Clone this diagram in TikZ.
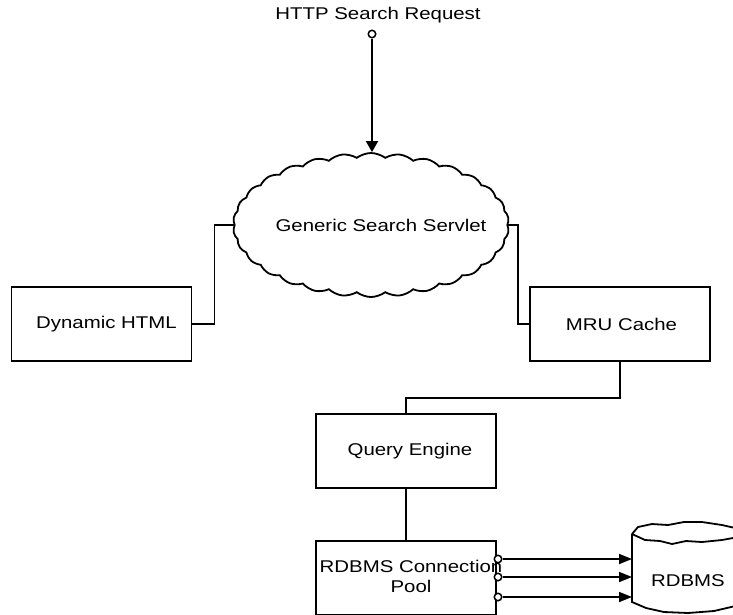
\documentclass[tikz,border=0pt]{standalone}
\usepackage{fontspec}
\setmainfont{Liberation Sans}
\usetikzlibrary{shapes.symbols,arrows.meta}
\newcommand{\wtxt}[1]{\scalebox{1.2}[1]{#1}}
\begin{document}
\begin{tikzpicture}[x=1pt,y=-1pt,line width=1.8pt,
  box/.style={draw,minimum width=180pt,minimum height=74pt,inner sep=0pt,font=\fontsize{17}{20}\selectfont},
  lbl/.style={inner sep=0pt,align=center,font=\fontsize{17}{20}\selectfont},
  tipa/.style={-{Triangle[length=11pt,width=12pt]}},
  tipb/.style={-{Triangle[length=13pt,width=10pt]}},
  port/.style={circle,draw,fill=white,minimum size=7.5pt,inner sep=0pt,line width=1.5pt}]
\useasboundingbox (0,0) rectangle (733,614);
\clip (0,0) rectangle (733,614);
% nodes
\node[lbl] (http) at (378,15) {\wtxt{HTTP Search Request}};
\node[port] (src) at (372,34) {};
\node[cloud,draw,cloud puffs=30,cloud puff arc=75,aspect=1.9,minimum width=276pt,minimum height=144pt,inner sep=0pt,font=\fontsize{17}{20}\selectfont] (servlet) at (371,225) {\makebox[0pt]{\hspace*{20pt}\wtxt{Generic Search Servlet}}};
\node[box] (dyn) at (101.5,324) {\makebox[0pt]{\hspace*{10pt}\wtxt{Dynamic HTML}}};
\node[box] (mru) at (620,324) {\makebox[0pt]{\hspace*{3pt}\wtxt{MRU Cache}}};
\node[box] (qe) at (406,451) {\makebox[0pt]{\hspace*{8pt}\wtxt{Query Engine}}};
\node[box] (pool) at (406,578) {\makebox[0pt]{\hspace*{10pt}\wtxt{\begin{tabular}{@{}c@{}}RDBMS Connection\\Pool\end{tabular}}}};
% cylinder
\draw (632,534) -- (638,527) -- (652,524) -- (668,525) -- (684,522) -- (702,522) -- (722,525) -- (744,530);
\draw (632,534) -- (645,540) -- (660,541) -- (672,544) -- (686,541) -- (702,542) -- (722,540) -- (744,536);
\draw (632,534) -- (632,602) -- (646,608) -- (664,612) -- (688,613) -- (714,611) -- (744,604);
\coordinate (dbw) at (632,578);
\node[lbl] (db) at (688,581) {\wtxt{RDBMS}};
% connectors
\draw[tipa] (src.south) -- (src.south |- servlet.north);
\draw (dyn.east) -- ++(22,0) |- (servlet.west);
\draw (servlet.east) -- ++(10,0) |- (mru.west);
\draw (mru.south) -- ++(0,36) -| (qe.north);
\draw (qe.south) -- (pool.north);
\node[port] (p1) at (498,559) {};
\node[port] (p2) at (498,577) {};
\node[port] (p3) at (498,597) {};
\draw[tipb] (p1.east) -- (p1 -| dbw);
\draw[tipb] (p2.east) -- (p2 -| dbw);
\draw[tipb] (p3.east) -- (p3 -| dbw);
\end{tikzpicture}
\end{document}
